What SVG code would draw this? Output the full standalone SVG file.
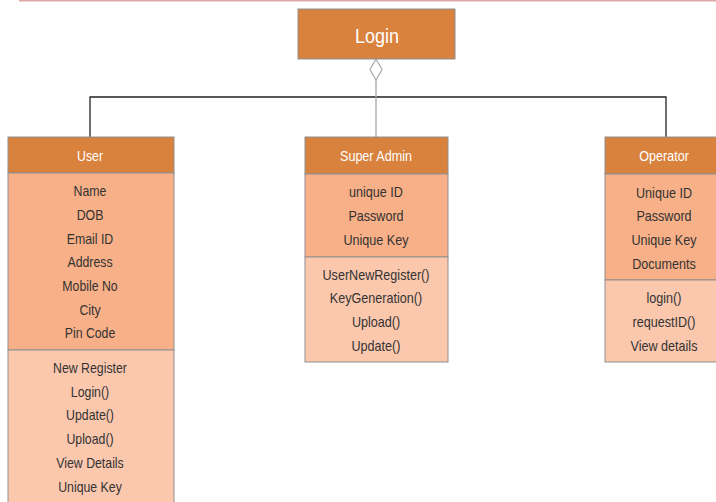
<svg xmlns="http://www.w3.org/2000/svg" width="716" height="502" viewBox="0 0 716 502">
<style>
.hd{fill:#D9823E;stroke:#8F8F8F;stroke-width:1}
.at{fill:#F8B088;stroke:#8F8F8F;stroke-width:1}
.me{fill:#FBC8AE;stroke:#8F8F8F;stroke-width:1}
text{font-family:"Liberation Sans",Arial,sans-serif;text-anchor:middle}
.t{font-size:14px;fill:#333333}
.w{font-size:14px;fill:#FFFFFF}
.big{font-size:20px;fill:#FFFFFF}
</style>
<rect width="716" height="502" fill="#FFFFFF"/>
<line x1="19" y1="0.8" x2="716" y2="0.8" stroke="#E0A6A6" stroke-width="1.6"/>
<g id="connectors">
<polyline points="90,137 90,97 666,97 666,137" fill="none" stroke="#222222" stroke-width="1.3"/>
<line x1="376" y1="80" x2="376" y2="137" stroke="#A8A8A8" stroke-width="1.3"/>
<polygon points="376,59 382,69.5 376,80 370,69.5" fill="#FFFFFF" stroke="#A8A8A8" stroke-width="1.2"/>
</g>
<g id="login">
<rect x="298" y="9" width="157" height="50" class="hd"/>
<text class="big" transform="translate(377,43) scale(0.9,1)">Login</text>
</g>
<g id="user">
<rect x="8" y="137" width="166" height="36" class="hd"/>
<rect x="8" y="173" width="166" height="177" class="at"/>
<rect x="8" y="350" width="166" height="160" class="me"/>
<g transform="translate(90,0) scale(0.88,1)">
<text class="w" y="161">User</text>
<text class="t" y="196">Name</text>
<text class="t" y="220">DOB</text>
<text class="t" y="244">Email ID</text>
<text class="t" y="267">Address</text>
<text class="t" y="291">Mobile No</text>
<text class="t" y="315">City</text>
<text class="t" y="338">Pin Code</text>
<text class="t" y="373">New Register</text>
<text class="t" y="397">Login()</text>
<text class="t" y="420">Update()</text>
<text class="t" y="444">Upload()</text>
<text class="t" y="468">View Details</text>
<text class="t" y="492">Unique Key</text>
</g>
</g>
<g id="superadmin">
<rect x="305" y="137" width="143" height="37" class="hd"/>
<rect x="305" y="174" width="143" height="83" class="at"/>
<rect x="305" y="257" width="143" height="105" class="me"/>
<g transform="translate(376,0) scale(0.9,1)">
<text class="w" y="161">Super Admin</text>
<text class="t" y="197">unique ID</text>
<text class="t" y="221">Password</text>
<text class="t" y="245">Unique Key</text>
<text class="t" y="280">UserNewRegister()</text>
<text class="t" y="303">KeyGeneration()</text>
<text class="t" y="327">Upload()</text>
<text class="t" y="351">Update()</text>
</g>
</g>
<g id="operator">
<rect x="605" y="137" width="120" height="37" class="hd"/>
<rect x="605" y="174" width="120" height="106" class="at"/>
<rect x="605" y="280" width="120" height="82" class="me"/>
<g transform="translate(664,0) scale(0.9,1)">
<text class="w" y="161">Operator</text>
<text class="t" y="198">Unique ID</text>
<text class="t" y="221">Password</text>
<text class="t" y="245">Unique Key</text>
<text class="t" y="269">Documents</text>
<text class="t" y="303">login()</text>
<text class="t" y="327">requestID()</text>
<text class="t" y="351">View details</text>
</g>
</g>
</svg>
